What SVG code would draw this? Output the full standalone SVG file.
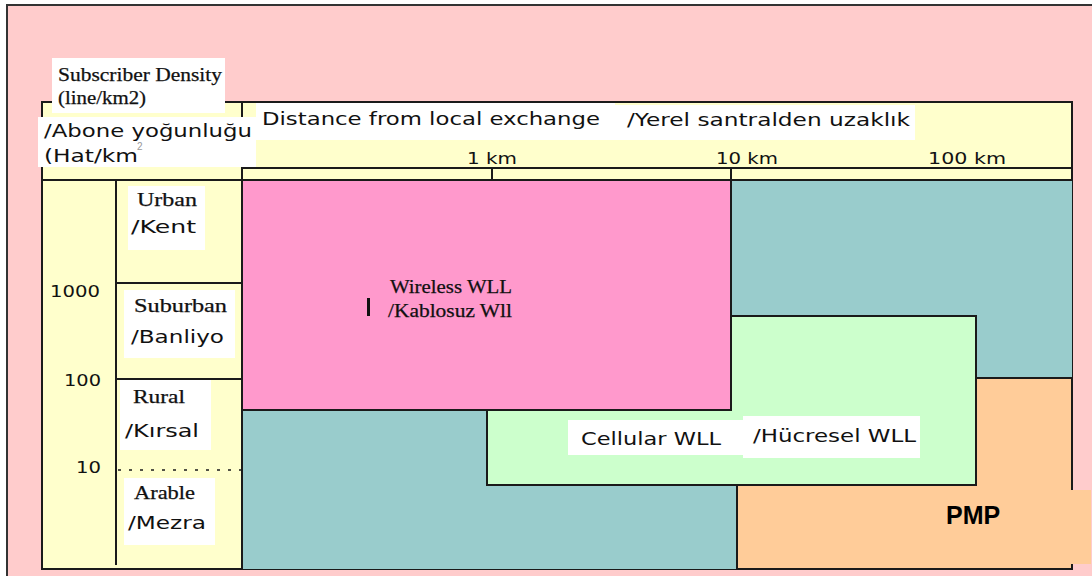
<svg xmlns="http://www.w3.org/2000/svg" width="1092" height="576" viewBox="0 0 1092 576">
<style>
.ln{stroke:#1a1a1a;stroke-width:2;fill:none}
.bx{stroke:#1a1a1a;stroke-width:2}
.wb{fill:#ffffff}
.sf{font-family:"Liberation Serif","DejaVu Serif",serif;font-size:19px;fill:#111;stroke:#111;stroke-width:0.25}
.ss{font-family:"DejaVu Sans","Liberation Sans",sans-serif;font-size:18px;fill:#111}
.tk{font-family:"DejaVu Sans","Liberation Sans",sans-serif;font-size:15px;fill:#111}
</style>
<rect x="0" y="0" width="1092" height="576" fill="#ffffff"/>
<rect x="7" y="5" width="1090" height="575" fill="#ffcccc"/>
<path d="M7 576 V5 H1092" stroke="#333" stroke-width="2" fill="none"/>

<g id="chart-frame">
<rect x="42" y="102" width="1030" height="467" fill="#ffffcc" class="bx"/>
<rect x="242" y="180" width="830" height="389" fill="#99cccc"/>
<line x1="242" y1="168" x2="1072" y2="168" class="ln"/>
<line x1="42" y1="180" x2="1072" y2="180" class="ln"/>
<line x1="242" y1="102" x2="242" y2="569" class="ln"/>
<line x1="492" y1="168" x2="492" y2="180" class="ln"/>
<line x1="731" y1="168" x2="731" y2="180" class="ln"/>
<line x1="116" y1="180" x2="116" y2="565" class="ln"/>
<line x1="116" y1="283" x2="242" y2="283" class="ln"/>
<line x1="116" y1="379" x2="242" y2="379" class="ln"/>
<line x1="118" y1="470" x2="242" y2="470" stroke="#1a1a1a" stroke-width="1.5" stroke-dasharray="3,8"/>
</g>

<g id="pmp">
<path d="M976 378 H1072 V569 H737 V485 H976 Z" fill="#ffcc99" class="bx"/>
<rect x="1000" y="490" width="91" height="74" fill="#ffcc99"/>
<text x="946" y="524" font-family="Liberation Sans, Arial, sans-serif" font-size="25" font-weight="bold" fill="#000">PMP</text>
</g>

<g id="cellular-wll">
<rect x="487" y="316" width="489" height="169" fill="#ccffcc" class="bx"/>
<rect x="568" y="420" width="176" height="35" class="wb"/>
<rect x="743" y="416" width="177" height="42" class="wb"/>
<text x="581" y="445" class="ss" textLength="140" lengthAdjust="spacingAndGlyphs">Cellular WLL</text>
<text x="753" y="442" class="ss" textLength="163" lengthAdjust="spacingAndGlyphs">/Hücresel WLL</text>
</g>

<g id="wireless-wll">
<rect x="242" y="180" width="489" height="230" fill="#ff99cc" class="bx"/>
<text x="390" y="293" class="sf" textLength="122" lengthAdjust="spacingAndGlyphs">Wireless WLL</text>
<text x="388" y="317" class="sf" textLength="124" lengthAdjust="spacingAndGlyphs">/Kablosuz Wll</text>
<rect x="367" y="298" width="3" height="18" fill="#111"/>
</g>

<g id="axis-title">
<rect x="52" y="58" width="173" height="55" class="wb"/>
<text x="58" y="81" class="sf" textLength="164" lengthAdjust="spacingAndGlyphs">Subscriber Density</text>
<text x="58" y="104" class="sf" textLength="88" lengthAdjust="spacingAndGlyphs">(line/km2)</text>
<rect x="38" y="117" width="218" height="50" class="wb"/>
<text x="44" y="137" class="ss" textLength="208" lengthAdjust="spacingAndGlyphs">/Abone yoğunluğu</text>
<text x="44" y="162" class="ss" textLength="94" lengthAdjust="spacingAndGlyphs">(Hat/km</text>
<text x="137" y="150" font-family="Liberation Sans, Arial, sans-serif" font-size="10" fill="#999">2</text>
</g>

<g id="distance-title">
<rect x="256" y="103" width="359" height="37" class="wb"/>
<text x="262" y="125" class="ss" textLength="338" lengthAdjust="spacingAndGlyphs">Distance from local exchange</text>
<rect x="615" y="105" width="300" height="35" class="wb"/>
<text x="627" y="126" class="ss" textLength="283" lengthAdjust="spacingAndGlyphs">/Yerel santralden uzaklık</text>
</g>

<g id="distance-ticks">
<text x="467" y="164" class="tk" textLength="50" lengthAdjust="spacingAndGlyphs">1 km</text>
<text x="716" y="164" class="tk" textLength="62" lengthAdjust="spacingAndGlyphs">10 km</text>
<text x="928" y="164" class="tk" textLength="78" lengthAdjust="spacingAndGlyphs">100 km</text>
</g>

<g id="density-ticks">
<text x="50" y="297" class="tk" textLength="50" lengthAdjust="spacingAndGlyphs">1000</text>
<text x="64" y="386" class="tk" textLength="37" lengthAdjust="spacingAndGlyphs">100</text>
<text x="76" y="473" class="tk" textLength="25" lengthAdjust="spacingAndGlyphs">10</text>
</g>

<g id="urban">
<rect x="128" y="186" width="77" height="64" class="wb"/>
<text x="137" y="206" class="sf" textLength="60" lengthAdjust="spacingAndGlyphs">Urban</text>
<text x="131" y="233" class="ss" textLength="65" lengthAdjust="spacingAndGlyphs">/Kent</text>
</g>
<g id="suburban">
<rect x="124" y="290" width="111" height="68" class="wb"/>
<text x="134" y="312" class="sf" textLength="93" lengthAdjust="spacingAndGlyphs">Suburban</text>
<text x="131" y="343" class="ss" textLength="93" lengthAdjust="spacingAndGlyphs">/Banliyo</text>
</g>
<g id="rural">
<rect x="120" y="380" width="91" height="70" class="wb"/>
<text x="133" y="403" class="sf" textLength="52" lengthAdjust="spacingAndGlyphs">Rural</text>
<text x="125" y="437" class="ss" textLength="74" lengthAdjust="spacingAndGlyphs">/Kırsal</text>
</g>
<g id="arable">
<rect x="124" y="478" width="91" height="67" class="wb"/>
<text x="134" y="499" class="sf" textLength="61" lengthAdjust="spacingAndGlyphs">Arable</text>
<text x="128" y="529" class="ss" textLength="78" lengthAdjust="spacingAndGlyphs">/Mezra</text>
</g>
</svg>
